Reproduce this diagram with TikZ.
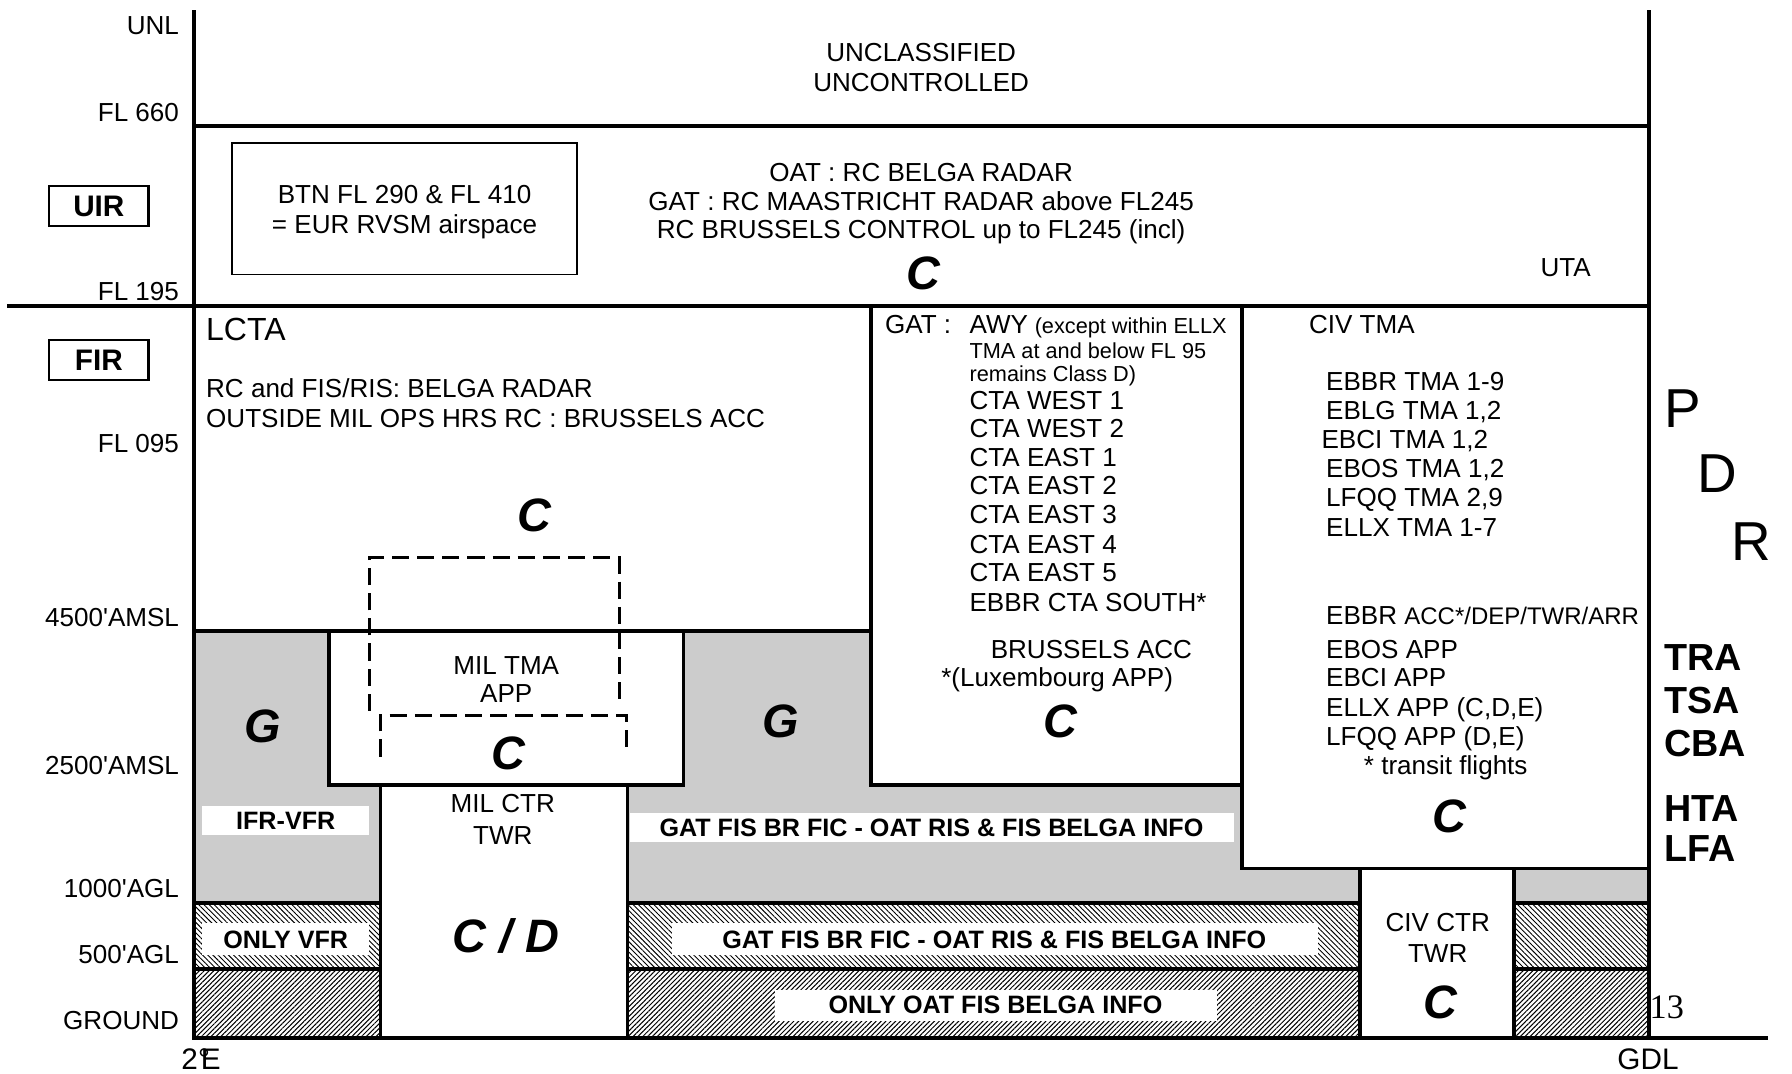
\documentclass[tikz,border=0pt]{standalone}
\usepackage{fontspec}
\setmainfont{Liberation Sans}
\newfontfamily\pageserif{Liberation Serif}
\usetikzlibrary{patterns.meta}
\definecolor{zonegray}{RGB}{204,204,204}
\begin{document}
\begin{tikzpicture}[x=0.5pt,y=-0.5pt,
  wall/.style={line width=1.6pt,line cap=rect},
  thinbox/.style={line width=0.6pt},
  dashline/.style={line width=1.3pt,dash pattern=on 7.5pt off 3.5pt},
  hatchA/.style={pattern={Lines[angle=-45,distance=1.6pt,line width=0.4pt]}},
  hatchB/.style={pattern={Lines[angle=45,distance=1.5pt,line width=0.45pt]}},
  txt/.style={font=\fontsize{11.4}{13}\selectfont,inner sep=0pt,anchor=base},
  txtl/.style={txt,anchor=base west},
  txtr/.style={txt,anchor=base east},
  smalltxt/.style={font=\fontsize{9.5}{11}\selectfont,inner sep=0pt,anchor=base west},
  cls/.style={font=\fontsize{20.5}{24}\bfseries\itshape\selectfont,inner sep=0pt,anchor=base},
  blbl/.style={font=\fontsize{11}{13}\bfseries\selectfont,inner sep=0pt,anchor=base},
  sidelbl/.style={font=\fontsize{16.5}{19}\bfseries\selectfont,inner sep=0pt,anchor=base west},
  bigletter/.style={font=\fontsize{24}{28}\selectfont,inner sep=0pt,anchor=base},
  geolbl/.style={font=\fontsize{13}{15}\selectfont,inner sep=0pt,anchor=base},
  regbox/.style={draw,line width=1pt,minimum width=43.5pt,minimum height=17.5pt,inner sep=0pt,font=\fontsize{13}{15}\bfseries\selectfont}
]
\useasboundingbox (0,0) rectangle (1568,939);

% grey zones
\fill[zonegray] (170,552) -- (288,552) -- (288,687) -- (333,687) -- (333,790) -- (170,790) -- cycle;
\fill[zonegray] (598,552) -- (762,552) -- (762,687) -- (1087,687) -- (1087,760) -- (1190,760) -- (1190,790) -- (549,790) -- (549,687) -- (598,687) -- cycle;
\fill[zonegray] (1325,760) rectangle (1443,790);

% hatched bands
\foreach \a/\b in {170/333,549/1190,1325/1443}{
  \fill[hatchA] (\a,790) rectangle (\b,848);
  \fill[hatchB] (\a,848) rectangle (\b,908);
}

% white label boxes
\fill[white] (177,705) rectangle (323,731);
\fill[white] (551,711) rectangle (1080,737);
\fill[white] (177,808) rectangle (323,836);
\fill[white] (588,808) rectangle (1153,836);
\fill[white] (678,866) rectangle (1065,893);

% structure lines
\draw[wall] (170,10) -- (170,908);
\draw[wall] (1443,10) -- (1443,908);
\draw[wall] (170,908) -- (1545,908);
\draw[wall] (170,110) -- (1443,110);
\draw[wall] (8,268) -- (1443,268);
\draw[wall] (170,552) -- (762,552);
\draw[wall] (762,268) -- (762,687) -- (1087,687);
\draw[wall] (1087,268) -- (1087,760) -- (1443,760);
\draw[wall] (288,552) rectangle (598,687);
\draw[wall] (333,687) -- (333,908);
\draw[wall] (549,687) -- (549,908);
\draw[wall] (1190,760) -- (1190,908);
\draw[wall] (1325,760) -- (1325,908);
\foreach \a/\b in {170/333,549/1190,1325/1443}{
  \draw[wall] (\a,790) -- (\b,790);
  \draw[wall] (\a,848) -- (\b,848);
}
\draw[thinbox] (203,125) rectangle (505,240);

% dashed outlines
\draw[dashline] (323,622) -- (323,488) -- (542,488) -- (542,614);
\draw[dashline] (333,662) -- (333,626) -- (548,626) -- (548,660);

% axis labels
\node[txtr] (unl) at (157,30) {UNL};
\node[txtr] (fl660) at (157,106) {FL 660};
\node[txtr] (fl195) at (157,263) {FL 195};
\node[txtr] (fl095) at (157,396) {FL 095};
\node[txtr] (a4500) at (157,548) {4500\textquotesingle AMSL};
\node[txtr] (a2500) at (157,678) {2500\textquotesingle AMSL};
\node[txtr] (g1000) at (157,785) {1000\textquotesingle AGL};
\node[txtr] (g500) at (157,843) {500\textquotesingle AGL};
\node[txtr] (gnd) at (157,901) {GROUND};
\node[regbox] (uir) at (86.5,180.5) {UIR};
\node[regbox] (fir) at (86.5,315) {FIR};
\node[geolbl] (east) at (176,936) {2°\kern-0.3em E};
\node[geolbl] (gdl) at (1442,936) {GDL};

% upper airspace
\node[txt] (uncl1) at (806,54) {UNCLASSIFIED};
\node[txt] (uncl2) at (806,80) {UNCONTROLLED};
\node[txt] (btn1) at (354,178) {BTN FL 290 \& FL 410};
\node[txt] (btn2) at (354,204) {= EUR RVSM airspace};
\node[txt] (oat1) at (806,159) {OAT : RC BELGA RADAR};
\node[txt] (oat2) at (806,184) {GAT : RC MAASTRICHT RADAR above FL245};
\node[txt] (oat3) at (806,209) {RC BRUSSELS CONTROL up to FL245 (incl)};
\node[cls] (cuta) at (808,253) {C};
\node[txt] (uta) at (1370,242) {UTA};

% LCTA
\node[font=\fontsize{14}{16}\selectfont,inner sep=0pt,anchor=base west] (lcta) at (180,298) {LCTA};
\node[txtl] (lc1) at (180,348) {RC and FIS/RIS: BELGA RADAR};
\node[txtl] (lc2) at (180,374) {OUTSIDE MIL OPS HRS RC : BRUSSELS ACC};
\node[cls] (clcta) at (468,465) {C};

% GAT AWY box
\node[txtl] (gat) at (774,292) {GAT :};
\node[txtl] (awy) at (848,292) {AWY};
\node[smalltxt] (exc1) at (905,292) {(except within ELLX};
\node[smalltxt] (exc2) at (848,314) {TMA at and below FL 95};
\node[smalltxt] (exc3) at (848,334) {remains Class D)};
\node[txtl] (cw1) at (848,358) {CTA WEST 1};
\node[txtl] (cw2) at (848,383) {CTA WEST 2};
\node[txtl] (ce1) at (848,408) {CTA EAST 1};
\node[txtl] (ce2) at (848,433) {CTA EAST 2};
\node[txtl] (ce3) at (848,458) {CTA EAST 3};
\node[txtl] (ce4) at (848,484) {CTA EAST 4};
\node[txtl] (ce5) at (848,509) {CTA EAST 5};
\node[txtl] (cs) at (848,535) {EBBR CTA SOUTH*};
\node[txt] (bacc) at (955,576) {BRUSSELS ACC};
\node[txt] (lux) at (925,601) {*(Luxembourg APP)};
\node[cls] (cgat) at (928,645) {C};

% CIV TMA box
\node[txtl] (civtma) at (1145,292) {CIV TMA};
\node[txtl] (t1) at (1160,342) {EBBR TMA 1-9};
\node[txtl] (t2) at (1160,367) {EBLG TMA 1,2};
\node[txtl] (t3) at (1156,392) {EBCI TMA 1,2};
\node[txtl] (t4) at (1160,418) {EBOS TMA 1,2};
\node[txtl] (t5) at (1160,443) {LFQQ TMA 2,9};
\node[txtl] (t6) at (1160,469) {ELLX TMA 1-7};
\node[txtl] (u1) at (1160,546) {EBBR {\fontsize{10.5}{12}\selectfont ACC*/DEP/TWR/ARR}};
\node[txtl] (u2) at (1160,576) {EBOS APP};
\node[txtl] (u3) at (1160,601) {EBCI APP};
\node[txtl] (u4) at (1160,627) {ELLX APP (C,D,E)};
\node[txtl] (u5) at (1160,652) {LFQQ APP (D,E)};
\node[txtl] (u6) at (1193,678) {* transit flights};
\node[cls] (cciv) at (1268,728) {C};

% MIL zones
\node[txt] (miltma) at (443,590) {MIL TMA};
\node[txt] (milapp) at (443,615) {APP};
\node[cls] (cmil) at (445,673) {C};
\node[cls] (g1) at (230,650) {G};
\node[cls] (g2) at (683,645) {G};
\node[txt] (milctr) at (440,711) {MIL CTR};
\node[txt] (miltwr) at (440,739) {TWR};
\node[cls] (ccd) at (443,833) {C / D};

% bold labels in low zones
\node[blbl] (ifr) at (250,726) {IFR-VFR};
\node[blbl] (fis1) at (815,732) {GAT FIS BR FIC - OAT RIS \& FIS BELGA INFO};
\node[blbl] (vfr) at (250,830) {ONLY VFR};
\node[blbl] (fis2) at (870,830) {GAT FIS BR FIC - OAT RIS \& FIS BELGA INFO};
\node[blbl] (oatonly) at (871,887) {ONLY OAT FIS BELGA INFO};

% CIV CTR
\node[txt] (civctr) at (1258,815) {CIV CTR};
\node[txt] (civtwr) at (1258,842) {TWR};
\node[cls] (cctr) at (1260,891) {C};

% right side
\node[bigletter] (pp) at (1472,374) {P};
\node[bigletter] (dd) at (1503,431) {D};
\node[bigletter] (rr) at (1532,490) {R};
\node[sidelbl] (tra) at (1456,587) {TRA};
\node[sidelbl] (tsa) at (1456,624) {TSA};
\node[sidelbl] (cba) at (1456,662) {CBA};
\node[sidelbl] (hta) at (1456,719) {HTA};
\node[sidelbl] (lfa) at (1456,754) {LFA};
\node[font=\pageserif\fontsize{15}{17}\selectfont,inner sep=0pt,anchor=base west] (pg) at (1443,891) {13};
\end{tikzpicture}
\end{document}
